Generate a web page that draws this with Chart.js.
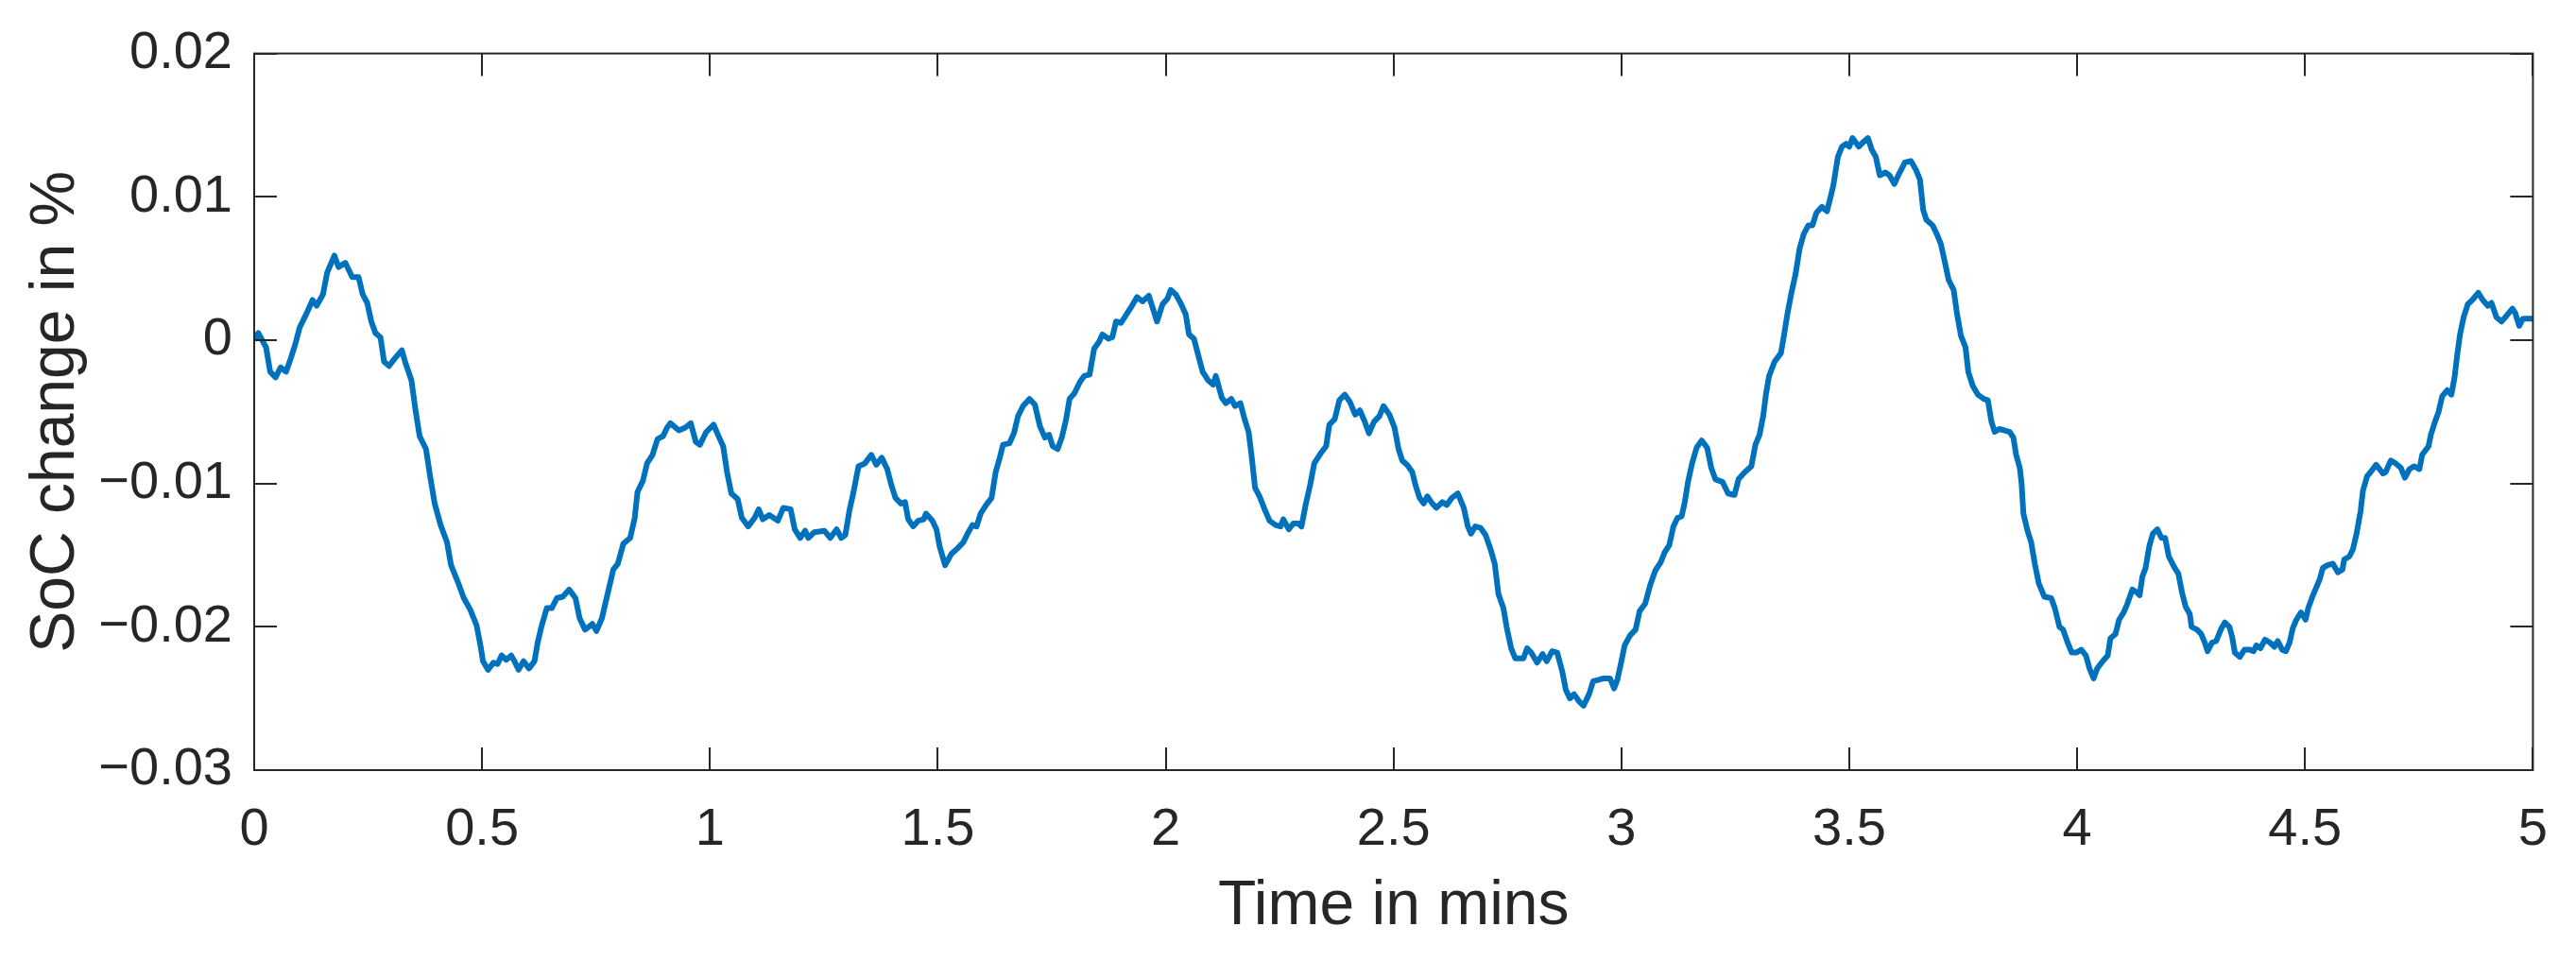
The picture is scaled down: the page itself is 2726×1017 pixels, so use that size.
<!DOCTYPE html>
<html>
<head>
<meta charset="utf-8">
<title>SoC change</title>
<script src="https://cdn.jsdelivr.net/npm/chart.js@4.4.1/dist/chart.umd.min.js"></script>
<style>
    html, body { margin: 0; padding: 0; background: #fff; }
    canvas { display: block; }
</style>
</head>
<body>
<canvas id="socChart" width="2726" height="1017"></canvas>
<script>
// Values
const timeMins = [
    0, 0.009, 0.026, 0.035, 0.047, 0.058, 0.070, 0.080, 0.090, 0.100, 0.114, 0.128, 0.137, 0.151, 0.160, 0.176, 0.185, 0.200,
    0.215, 0.229, 0.238, 0.248, 0.257, 0.266, 0.277, 0.285, 0.296, 0.308, 0.324, 0.331, 0.345, 0.354, 0.363, 0.377, 0.386,
    0.396, 0.409, 0.423, 0.432, 0.446, 0.460, 0.474, 0.488, 0.497, 0.502, 0.513, 0.525, 0.534, 0.543, 0.553, 0.564, 0.571,
    0.580, 0.591, 0.603, 0.615, 0.622, 0.631, 0.642, 0.653, 0.664, 0.677, 0.691, 0.705, 0.714, 0.726, 0.742, 0.751, 0.763,
    0.774, 0.788, 0.798, 0.810, 0.825, 0.835, 0.841, 0.853, 0.862, 0.874, 0.885, 0.897, 0.906, 0.913, 0.932, 0.946, 0.958,
    0.969, 0.978, 0.992, 1.008, 1.019, 1.029, 1.038, 1.047, 1.061, 1.070, 1.084, 1.098, 1.107, 1.116, 1.130, 1.149, 1.161,
    1.177, 1.186, 1.198, 1.209, 1.216, 1.229, 1.251, 1.264, 1.278, 1.288, 1.297, 1.306, 1.315, 1.326, 1.340, 1.354, 1.365,
    1.377, 1.389, 1.398, 1.407, 1.419, 1.428, 1.435, 1.446, 1.457, 1.469, 1.474, 1.488, 1.497, 1.504, 1.516, 1.530, 1.544,
    1.556, 1.567, 1.576, 1.585, 1.594, 1.606, 1.618, 1.627, 1.636, 1.643, 1.657, 1.667, 1.676, 1.687, 1.701, 1.713, 1.724,
    1.735, 1.744, 1.752, 1.763, 1.772, 1.781, 1.789, 1.800, 1.812, 1.821, 1.833, 1.843, 1.854, 1.861, 1.874, 1.883, 1.891,
    1.902, 1.914, 1.926, 1.937, 1.949, 1.963, 1.972, 1.981, 1.993, 2.004, 2.011, 2.022, 2.034, 2.044, 2.051, 2.062, 2.071,
    2.081, 2.093, 2.104, 2.110, 2.123, 2.132, 2.144, 2.152, 2.164, 2.173, 2.182, 2.189, 2.196, 2.206, 2.217, 2.228, 2.241,
    2.252, 2.258, 2.270, 2.280, 2.291, 2.298, 2.307, 2.317, 2.326, 2.340, 2.352, 2.359, 2.371, 2.381, 2.393, 2.404, 2.416,
    2.426, 2.437, 2.446, 2.457, 2.469, 2.478, 2.491, 2.502, 2.511, 2.519, 2.530, 2.541, 2.548, 2.557, 2.566, 2.574, 2.585,
    2.594, 2.607, 2.617, 2.628, 2.641, 2.654, 2.663, 2.670, 2.679, 2.691, 2.702, 2.713, 2.722, 2.730, 2.741, 2.748, 2.758,
    2.767, 2.785, 2.793, 2.802, 2.815, 2.827, 2.836, 2.848, 2.859, 2.870, 2.878, 2.887, 2.896, 2.907, 2.917, 2.929, 2.938,
    2.950, 2.961, 2.975, 2.984, 2.991, 3.000, 3.007, 3.019, 3.031, 3.040, 3.052, 3.063, 3.074, 3.086, 3.095, 3.105, 3.114,
    3.123, 3.132, 3.139, 3.146, 3.155, 3.165, 3.176, 3.188, 3.197, 3.206, 3.222, 3.234, 3.248, 3.257, 3.271, 3.285, 3.294,
    3.303, 3.311, 3.317, 3.324, 3.336, 3.350, 3.357, 3.364, 3.373, 3.382, 3.391, 3.400, 3.410, 3.419, 3.428, 3.440, 3.451,
    3.459, 3.465, 3.475, 3.484, 3.493, 3.500, 3.507, 3.521, 3.530, 3.541, 3.549, 3.558, 3.567, 3.579, 3.588, 3.599, 3.609,
    3.622, 3.635, 3.646, 3.655, 3.662, 3.669, 3.683, 3.692, 3.701, 3.710, 3.718, 3.729, 3.736, 3.745, 3.755, 3.761, 3.771,
    3.782, 3.795, 3.804, 3.812, 3.819, 3.829, 3.841, 3.852, 3.860, 3.866, 3.874, 3.878, 3.882, 3.891, 3.899, 3.907, 3.916,
    3.928, 3.943, 3.951, 3.961, 3.969, 3.979, 3.988, 3.998, 4.009, 4.019, 4.027, 4.036, 4.044, 4.056, 4.067, 4.073, 4.084,
    4.092, 4.102, 4.110, 4.121, 4.131, 4.137, 4.143, 4.150, 4.158, 4.166, 4.176, 4.185, 4.193, 4.201, 4.214, 4.222, 4.230,
    4.238, 4.247, 4.251, 4.263, 4.272, 4.280, 4.286, 4.296, 4.305, 4.315, 4.324, 4.334, 4.340, 4.346, 4.357, 4.367, 4.379,
    4.387, 4.393, 4.402, 4.412, 4.423, 4.433, 4.440, 4.450, 4.458, 4.466, 4.473, 4.481, 4.491, 4.501, 4.507, 4.516, 4.524,
    4.532, 4.539, 4.549, 4.561, 4.572, 4.582, 4.586, 4.597, 4.605, 4.613, 4.622, 4.627, 4.636, 4.644, 4.656, 4.671, 4.677,
    4.688, 4.699, 4.710, 4.719, 4.729, 4.739, 4.751, 4.757, 4.771, 4.776, 4.785, 4.793, 4.801, 4.812, 4.821, 4.828, 4.834,
    4.840, 4.848, 4.857, 4.867, 4.880, 4.890, 4.901, 4.909, 4.920, 4.931, 4.942, 4.955, 4.961, 4.970, 4.978, 4.992, 5.000
];

const socChange = [
    0.0000, 0.0005, -0.0005, -0.0022, -0.0026, -0.0019, -0.0022, -0.0013, -0.0003, 0.0009, 0.0018, 0.0028, 0.0024, 0.0032, 0.0047, 0.0059, 0.0051, 0.0054,
    0.0044, 0.0044, 0.0032, 0.0026, 0.0013, 0.0005, 0.0002, -0.0015, -0.0018, -0.0013, -0.0007, -0.0015, -0.0028, -0.0049, -0.0067, -0.0076, -0.0095,
    -0.0114, -0.0129, -0.0141, -0.0157, -0.0168, -0.0180, -0.0188, -0.0199, -0.0214, -0.0224, -0.0230, -0.0225, -0.0226, -0.0220, -0.0223, -0.0220, -0.0224,
    -0.0230, -0.0224, -0.0229, -0.0224, -0.0211, -0.0199, -0.0187, -0.0187, -0.0180, -0.0179, -0.0174, -0.0180, -0.0194, -0.0202, -0.0198, -0.0203, -0.0194,
    -0.0179, -0.0160, -0.0156, -0.0142, -0.0138, -0.0124, -0.0106, -0.0098, -0.0086, -0.0080, -0.0069, -0.0067, -0.0061, -0.0058, -0.0063, -0.0061, -0.0058,
    -0.0071, -0.0073, -0.0064, -0.0059, -0.0067, -0.0074, -0.0093, -0.0107, -0.0111, -0.0124, -0.0130, -0.0124, -0.0118, -0.0125, -0.0122, -0.0126, -0.0117,
    -0.0118, -0.0132, -0.0138, -0.0133, -0.0138, -0.0134, -0.0133, -0.0138, -0.0132, -0.0138, -0.0136, -0.0119, -0.0106, -0.0088, -0.0086, -0.0080, -0.0087,
    -0.0082, -0.0090, -0.0101, -0.0110, -0.0114, -0.0113, -0.0125, -0.0130, -0.0126, -0.0125, -0.0121, -0.0126, -0.0132, -0.0144, -0.0157, -0.0149, -0.0145,
    -0.0141, -0.0134, -0.0129, -0.0130, -0.0121, -0.0115, -0.0110, -0.0092, -0.0082, -0.0073, -0.0072, -0.0065, -0.0053, -0.0046, -0.0041, -0.0045, -0.0060,
    -0.0068, -0.0066, -0.0074, -0.0076, -0.0068, -0.0056, -0.0041, -0.0037, -0.0029, -0.0025, -0.0024, -0.0006, -0.0001, 0.0004, 0.0001, 0.0002, 0.0013,
    0.0012, 0.0018, 0.0024, 0.0030, 0.0027, 0.0031, 0.0022, 0.0013, 0.0025, 0.0029, 0.0035, 0.0032, 0.0025, 0.0018, 0.0004, 0.0001, -0.0010,
    -0.0022, -0.0028, -0.0031, -0.0025, -0.0040, -0.0044, -0.0041, -0.0046, -0.0044, -0.0055, -0.0064, -0.0082, -0.0103, -0.0109, -0.0118, -0.0126, -0.0129,
    -0.0130, -0.0125, -0.0132, -0.0128, -0.0128, -0.0130, -0.0115, -0.0101, -0.0086, -0.0079, -0.0074, -0.0059, -0.0055, -0.0042, -0.0038, -0.0043, -0.0052,
    -0.0049, -0.0057, -0.0065, -0.0057, -0.0053, -0.0046, -0.0052, -0.0061, -0.0076, -0.0084, -0.0087, -0.0092, -0.0101, -0.0110, -0.0114, -0.0109, -0.0114,
    -0.0117, -0.0113, -0.0115, -0.0110, -0.0107, -0.0117, -0.0130, -0.0135, -0.0130, -0.0131, -0.0136, -0.0146, -0.0156, -0.0177, -0.0187, -0.0200, -0.0215,
    -0.0222, -0.0222, -0.0215, -0.0218, -0.0225, -0.0219, -0.0224, -0.0217, -0.0218, -0.0231, -0.0244, -0.0250, -0.0247, -0.0252, -0.0255, -0.0247, -0.0238,
    -0.0237, -0.0236, -0.0236, -0.0243, -0.0237, -0.0224, -0.0213, -0.0206, -0.0202, -0.0189, -0.0184, -0.0171, -0.0161, -0.0155, -0.0148, -0.0143, -0.0130,
    -0.0124, -0.0123, -0.0113, -0.0099, -0.0086, -0.0075, -0.0070, -0.0075, -0.0089, -0.0097, -0.0099, -0.0107, -0.0108, -0.0097, -0.0092, -0.0088, -0.0073,
    -0.0066, -0.0053, -0.0038, -0.0025, -0.0015, -0.0009, 0.0004, 0.0018, 0.0033, 0.0046, 0.0064, 0.0074, 0.0080, 0.0080, 0.0089, 0.0093, 0.0090,
    0.0100, 0.0108, 0.0128, 0.0135, 0.0137, 0.0135, 0.0141, 0.0135, 0.0138, 0.0141, 0.0133, 0.0128, 0.0115, 0.0117, 0.0115, 0.0109, 0.0116,
    0.0124, 0.0125, 0.0119, 0.0112, 0.0091, 0.0084, 0.0080, 0.0074, 0.0067, 0.0054, 0.0042, 0.0035, 0.0019, 0.0003, -0.0005, -0.0022, -0.0032,
    -0.0038, -0.0041, -0.0042, -0.0057, -0.0064, -0.0062, -0.0063, -0.0064, -0.0068, -0.0080, -0.0089, -0.0100, -0.0121, -0.0133, -0.0141, -0.0156, -0.0170,
    -0.0179, -0.0180, -0.0187, -0.0200, -0.0202, -0.0211, -0.0218, -0.0218, -0.0216, -0.0220, -0.0229, -0.0236, -0.0229, -0.0224, -0.0220, -0.0208, -0.0205,
    -0.0195, -0.0190, -0.0184, -0.0174, -0.0176, -0.0178, -0.0165, -0.0159, -0.0144, -0.0135, -0.0132, -0.0138, -0.0138, -0.0151, -0.0159, -0.0163, -0.0176,
    -0.0186, -0.0191, -0.0200, -0.0202, -0.0205, -0.0211, -0.0217, -0.0211, -0.0210, -0.0202, -0.0197, -0.0200, -0.0207, -0.0218, -0.0221, -0.0216, -0.0216,
    -0.0217, -0.0213, -0.0215, -0.0209, -0.0211, -0.0214, -0.0210, -0.0216, -0.0217, -0.0211, -0.0201, -0.0195, -0.0190, -0.0195, -0.0187, -0.0179, -0.0173,
    -0.0167, -0.0159, -0.0157, -0.0156, -0.0162, -0.0160, -0.0153, -0.0151, -0.0146, -0.0135, -0.0119, -0.0105, -0.0095, -0.0092, -0.0087, -0.0093, -0.0092,
    -0.0084, -0.0086, -0.0089, -0.0096, -0.0090, -0.0088, -0.0090, -0.0080, -0.0074, -0.0066, -0.0057, -0.0050, -0.0039, -0.0035, -0.0038, -0.0026, -0.0010,
    0.0004, 0.0016, 0.0025, 0.0028, 0.0033, 0.0028, 0.0024, 0.0026, 0.0016, 0.0013, 0.0017, 0.0022, 0.0019, 0.0010, 0.0015, 0.0015, 0.0015
];

const xTicks = [0, 0.5, 1, 1.5, 2, 2.5, 3, 3.5, 4, 4.5, 5];
const yTicks = [-0.03, -0.02, -0.01, 0, 0.01, 0.02];

const axisColor = '#262626';
const lineColor = '#0072BD';
const fontFamily = "'Liberation Sans', Arial, Helvetica, sans-serif";

// MATLAB style box with inward ticks on all four sides
const boxAxes = {
    id: 'boxAxes',
    afterDraw(chart) {
        const { ctx, chartArea: a, scales: { x, y } } = chart;
        const len = 24;
        ctx.save();
        ctx.strokeStyle = axisColor;
        ctx.lineWidth = 2;
        ctx.beginPath();
        xTicks.forEach(t => {
            const px = Math.round(x.getPixelForValue(t));
            ctx.moveTo(px, a.bottom);
            ctx.lineTo(px, a.bottom - len);
            ctx.moveTo(px, a.top);
            ctx.lineTo(px, a.top + len);
        });
        yTicks.forEach(v => {
            const py = Math.round(y.getPixelForValue(v));
            ctx.moveTo(a.left, py);
            ctx.lineTo(a.left + len, py);
            ctx.moveTo(a.right, py);
            ctx.lineTo(a.right - len, py);
        });
        ctx.stroke();
        ctx.strokeRect(a.left, a.top, a.right - a.left, a.bottom - a.top);
        ctx.restore();
    }
};

const points = timeMins.map((t, i) => ({ x: t, y: socChange[i] }));

new Chart(document.getElementById('socChart'), {
    type: 'line',
    data: {
        datasets: [{
            label: 'SoC change',
            data: points,
            borderColor: lineColor,
            borderWidth: 6,
            borderJoinStyle: 'round',
            pointRadius: 0,
            tension: 0,
            fill: false
        }]
    },
    options: {
        responsive: false,
        animation: false,
        layout: { padding: { top: 50, right: 45, left: 0, bottom: 0 } },
        plugins: {
            legend: { display: false },
            tooltip: { enabled: false }
        },
        scales: {
            x: {
                type: 'linear',
                min: 0,
                max: 5,
                afterFit: scale => { scale.height = 202; },
                afterBuildTicks: scale => { scale.ticks = xTicks.map(v => ({ value: v })); },
                grid: { display: false, drawTicks: false },
                border: { display: false },
                ticks: {
                    autoSkip: false,
                    maxRotation: 0,
                    padding: 30,
                    color: axisColor,
                    font: { family: fontFamily, size: 56 },
                    callback: v => String(v)
                },
                title: {
                    display: true,
                    text: 'Time in mins',
                    color: axisColor,
                    font: { family: fontFamily, size: 66, lineHeight: 1 },
                    padding: { top: 0, bottom: 24 }
                }
            },
            y: {
                min: -0.03,
                max: 0.02,
                afterFit: scale => { scale.width = 269; },
                afterBuildTicks: scale => { scale.ticks = yTicks.map(v => ({ value: v })); },
                grid: { display: false, drawTicks: false },
                border: { display: false },
                ticks: {
                    padding: 23,
                    color: axisColor,
                    font: { family: fontFamily, size: 56 },
                    callback: v => v === 0 ? '0' : v.toFixed(2).replace('-', '\u2212')
                },
                title: {
                    display: true,
                    text: 'SoC change in %',
                    color: axisColor,
                    font: { family: fontFamily, size: 66, lineHeight: 1 },
                    padding: { top: 27, bottom: 0 }
                }
            }
        }
    },
    plugins: [boxAxes]
});
</script>
</body>
</html>
